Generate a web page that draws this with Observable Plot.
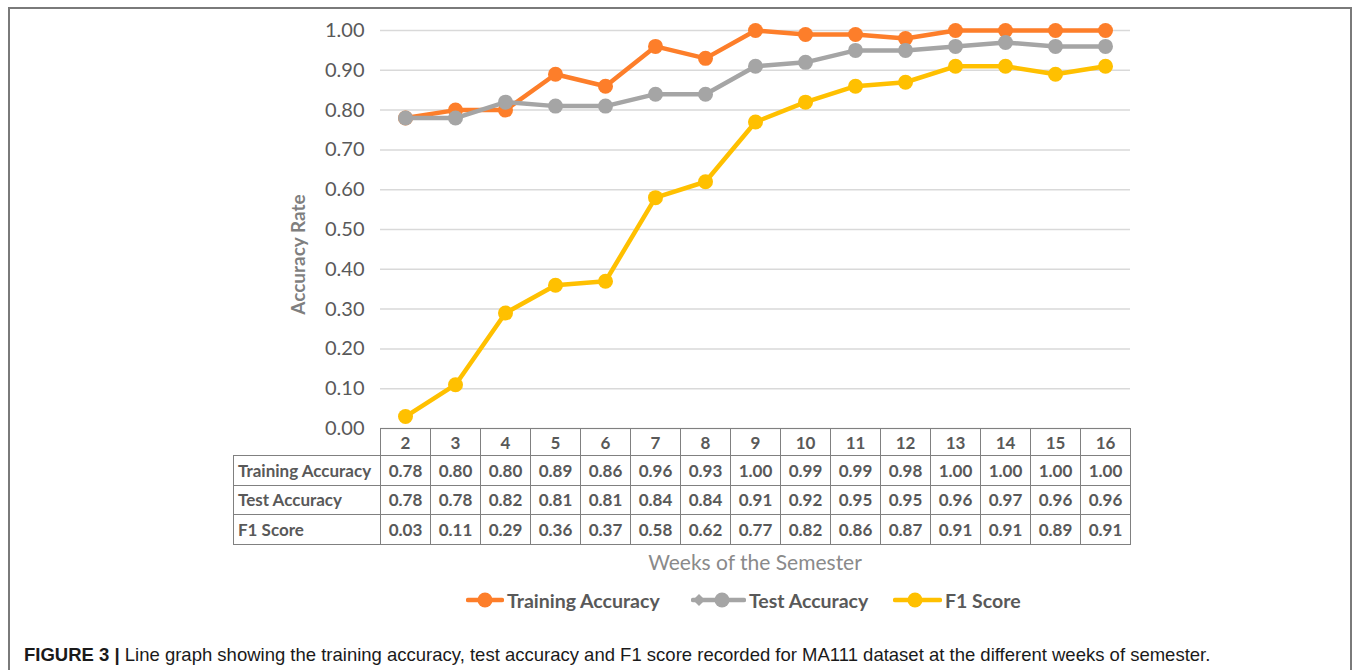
<!DOCTYPE html>
<html>
<head>
<meta charset="utf-8">
<script src="https://cdn.jsdelivr.net/npm/d3@7"></script>
<script src="https://cdn.jsdelivr.net/npm/@observablehq/plot@0.6"></script>
<style>
  html, body { margin: 0; padding: 0; background: #fff; }
  #root { position: relative; width: 1357px; height: 670px; overflow: hidden; font-family: Lato, "Open Sans", sans-serif; }
  #frame { position: absolute; left: 8px; top: 7px; width: 1344px; height: 720px; border: 2px solid #7a7a7a; box-sizing: border-box; }
  #chart { position: absolute; left: 0; top: 0; }
  #tbl { position: absolute; left: 233px; top: 428px; border-collapse: collapse; color: #595959; font-weight: bold; font-size: 17px; }
  #tbl td { border: 1.5px solid #808080; text-align: center; padding: 0; box-sizing: border-box; }
  #tbl td.lab { text-align: left; padding-left: 4px; width: 147px; white-space: nowrap; }
  #tbl td.blank { border: none; border-right: 1.5px solid #808080; }
  #tbl tr.hdr td { height: 27px; }
  #tbl tr.row td { height: 29.5px; }
  #tbl td.val { width: 50px; }
  #xtitle { position: absolute; left: 380px; width: 750px; top: 549px; text-align: center; font-size: 21px; color: #8a8a8a; }
  #legend { position: absolute; top: 587px; left: 0; width: 1357px; height: 26px; }
  .lg { position: absolute; top: 0; display: flex; align-items: center; font-size: 19.5px; font-weight: bold; color: #595959; white-space: nowrap; }
  #caption { position: absolute; left: 24px; top: 644px; font-family: "Liberation Sans", Arial, sans-serif; font-size: 18.5px; color: #1a1a1a; white-space: nowrap; }
</style>
</head>
<body>
<div id="root">
  <div id="frame"></div>
  <div id="chart"></div>
  <table id="tbl"></table>
  <div id="xtitle"></div>
  <div id="legend"></div>
  <div id="caption"><b>FIGURE 3 |</b> Line graph showing the training accuracy, test accuracy and F1 score recorded for MA111 dataset at the different weeks of semester.</div>
</div>
<script>
const weeks = [2, 3, 4, 5, 6, 7, 8, 9, 10, 11, 12, 13, 14, 15, 16];
const trainingAccuracy = [0.78, 0.80, 0.80, 0.89, 0.86, 0.96, 0.93, 1.00, 0.99, 0.99, 0.98, 1.00, 1.00, 1.00, 1.00];
const testAccuracy = [0.78, 0.78, 0.82, 0.81, 0.81, 0.84, 0.84, 0.91, 0.92, 0.95, 0.95, 0.96, 0.97, 0.96, 0.96];
const f1Score = [0.03, 0.11, 0.29, 0.36, 0.37, 0.58, 0.62, 0.77, 0.82, 0.86, 0.87, 0.91, 0.91, 0.89, 0.91];
const seriesNames = ["Training Accuracy", "Test Accuracy", "F1 Score"];
const seriesColors = ["#FD7E2A", "#A5A5A5", "#FFC000"];
const yTicks = [0, 0.1, 0.2, 0.3, 0.4, 0.5, 0.6, 0.7, 0.8, 0.9, 1.0];
const xAxisTitle = "Weeks of the Semester";
const yAxisTitle = "Accuracy Rate";

const seriesValues = [trainingAccuracy, testAccuracy, f1Score];
const data = [];
seriesNames.forEach((s, i) => weeks.forEach((w, j) => data.push({series: s, week: String(w), value: seriesValues[i][j]})));

const marks = [
  Plot.gridY(yTicks, {stroke: "#d9d9d9", strokeOpacity: 1, strokeWidth: 1.5}),
  Plot.axisY(yTicks, {label: null, tickFormat: d => d.toFixed(2), tickSize: 0, tickPadding: 16, fill: "#595959", fontSize: 20}),
  Plot.text([yAxisTitle], {frameAnchor: "left", textAnchor: "middle", dx: -82, dy: 25, rotate: -90, fill: "#7f7f7f", fontSize: 19, fontWeight: "bold"})
];
seriesNames.forEach((s, i) => {
  const d = data.filter(r => r.series === s);
  marks.push(Plot.line(d, {x: "week", y: "value", stroke: seriesColors[i], strokeWidth: 4.5}));
  marks.push(Plot.dot(d, {x: "week", y: "value", r: 7.5, fill: seriesColors[i], stroke: "none"}));
});

const chart = Plot.plot({
  width: 1357,
  height: 430,
  marginLeft: 380,
  marginRight: 227,
  marginTop: 30,
  marginBottom: 2,
  style: {fontFamily: "Lato, 'Open Sans', sans-serif", background: "transparent", overflow: "visible"},
  x: {type: "point", domain: weeks.map(String), padding: 0.5, axis: null},
  y: {domain: [0, 1], axis: null},
  marks
});
document.getElementById("chart").appendChild(chart);

// data table under the chart
const tbl = document.getElementById("tbl");
let html = '<tr class="hdr"><td class="blank lab"></td>' + weeks.map(w => `<td class="val">${w}</td>`).join("") + "</tr>";
seriesNames.forEach((s, i) => {
  html += `<tr class="row"><td class="lab">${s}</td>` + seriesValues[i].map(v => `<td class="val">${v.toFixed(2)}</td>`).join("") + "</tr>";
});
tbl.innerHTML = html;
const blank = tbl.querySelector(".blank");
blank.style.borderTop = "none"; blank.style.borderLeft = "none";

document.getElementById("xtitle").textContent = xAxisTitle;

// legend
const legend = document.getElementById("legend");
const legendX = [466, 691, 893];
const legendW = [38, 55, 49];
const legendDot = [19, 31, 22];
seriesNames.forEach((s, i) => {
  const el = document.createElement("div");
  el.className = "lg";
  el.style.left = legendX[i] + "px";
  const w = legendW[i];
  const c = seriesColors[i];
  let sw = `<svg width="${w}" height="26" style="margin-right:3px"><line x1="2" x2="${w - 2}" y1="13" y2="13" stroke="${c}" stroke-width="4.5" stroke-linecap="round"/>`;
  if (i === 1) sw += `<path d="M2,13 L8,7 L14,13 L8,19 Z" fill="${c}"/>`;
  sw += `<circle cx="${legendDot[i]}" cy="13" r="7.5" fill="${c}"/></svg>`;
  el.innerHTML = sw + `<span>${s}</span>`;
  legend.appendChild(el);
});
</script>
</body>
</html>
